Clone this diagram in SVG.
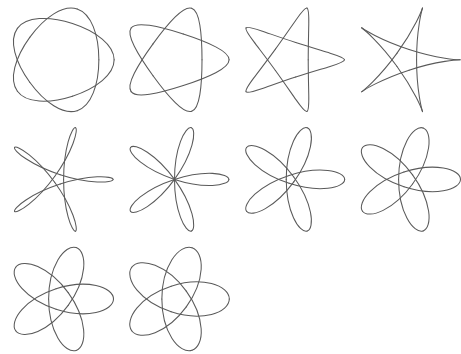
<svg xmlns="http://www.w3.org/2000/svg" xmlns:xlink="http://www.w3.org/1999/xlink" width="461" height="354" viewBox="0 0 461 354">
<style>
.c{fill:none;stroke:#5a5a5a;stroke-width:1.05;vector-effect:non-scaling-stroke;stroke-linecap:round;stroke-linejoin:round}
</style>
<defs>
<path id="p1" class="c" d="M3.5,0C3.5,0.4712 3.2173,0.9429 2.7209,1.3588C2.2245,1.7748 1.5195,2.1349 0.7725,2.3776"/>
<path id="p2" class="c" d="M4,0C4,0.3142 3.6383,0.6307 3.0148,0.9543C2.3914,1.2780 1.5144,1.6109 0.6180,1.9021"/>
<path id="p3" class="c" d="M4.5,0C4.5,0.1571 4.0593,0.3185 3.3087,0.5498C2.5582,0.7812 1.5093,1.0868 0.4635,1.4266"/>
<path id="p4" class="c" d="M5,0C5,0 4.4803,0.0063 3.6026,0.1453C2.7250,0.2843 1.5042,0.5627 0.3090,0.9511"/>
<path id="p5" class="c" d="M5.5,0C5.5,-0.1571 4.9012,-0.3059 3.8965,-0.2592C2.8918,-0.2125 1.4990,0.0387 0.1545,0.4755"/>
<path id="p6" class="c" d="M6,0C6,-0.3142 5.3222,-0.6180 4.1904,-0.6637C3.0586,-0.7094 1.4939,-0.4854 0,0"/>
<path id="p7" class="c" d="M6.5,0C6.5,-0.4712 5.7432,-0.9302 4.4843,-1.0682C3.2254,-1.2062 1.4888,-1.0095 -0.1545,-0.4755"/>
<path id="p8" class="c" d="M7,0C7,-0.6283 6.1642,-1.2424 4.7782,-1.4727C3.3922,-1.7030 1.4837,-1.5335 -0.3090,-0.9511"/>
<path id="p9" class="c" d="M7.5,0C7.5,-0.7854 6.5851,-1.5546 5.0721,-1.8772C3.5590,-2.1999 1.4786,-2.0576 -0.4635,-1.4266"/>
<path id="p10" class="c" d="M8,0C8,-0.9425 7.0061,-1.8668 5.3660,-2.2817C3.7259,-2.6967 1.4735,-2.5817 -0.6180,-1.9021"/>
<g id="h1"><use xlink:href="#p1"/><use xlink:href="#p1" transform="scale(1,-1)"/></g>
<g id="h2"><use xlink:href="#p2"/><use xlink:href="#p2" transform="scale(1,-1)"/></g>
<g id="h3"><use xlink:href="#p3"/><use xlink:href="#p3" transform="scale(1,-1)"/></g>
<g id="h4"><use xlink:href="#p4"/><use xlink:href="#p4" transform="scale(1,-1)"/></g>
<g id="h5"><use xlink:href="#p5"/><use xlink:href="#p5" transform="scale(1,-1)"/></g>
<g id="h6"><use xlink:href="#p6"/><use xlink:href="#p6" transform="scale(1,-1)"/></g>
<g id="h7"><use xlink:href="#p7"/><use xlink:href="#p7" transform="scale(1,-1)"/></g>
<g id="h8"><use xlink:href="#p8"/><use xlink:href="#p8" transform="scale(1,-1)"/></g>
<g id="h9"><use xlink:href="#p9"/><use xlink:href="#p9" transform="scale(1,-1)"/></g>
<g id="h10"><use xlink:href="#p10"/><use xlink:href="#p10" transform="scale(1,-1)"/></g>
</defs>
<rect width="461" height="354" fill="#fff"/>
<g id="curve1" transform="translate(60.66,59.8) scale(15.28)">
<use xlink:href="#h1"/><use xlink:href="#h1" transform="rotate(72)"/><use xlink:href="#h1" transform="rotate(144)"/><use xlink:href="#h1" transform="rotate(216)"/><use xlink:href="#h1" transform="rotate(288)"/>
</g>
<g id="curve2" transform="translate(174.93,59.8) scale(13.54)">
<use xlink:href="#h2"/><use xlink:href="#h2" transform="rotate(72)"/><use xlink:href="#h2" transform="rotate(144)"/><use xlink:href="#h2" transform="rotate(216)"/><use xlink:href="#h2" transform="rotate(288)"/>
</g>
<g id="curve3" transform="translate(290.09,59.8) scale(12.09)">
<use xlink:href="#h3"/><use xlink:href="#h3" transform="rotate(72)"/><use xlink:href="#h3" transform="rotate(144)"/><use xlink:href="#h3" transform="rotate(216)"/><use xlink:href="#h3" transform="rotate(288)"/>
</g>
<g id="curve4" transform="translate(405.68,59.8) scale(10.893)">
<use xlink:href="#h4"/><use xlink:href="#h4" transform="rotate(72)"/><use xlink:href="#h4" transform="rotate(144)"/><use xlink:href="#h4" transform="rotate(216)"/><use xlink:href="#h4" transform="rotate(288)"/>
</g>
<g id="curve5" transform="translate(58.65,179.4) scale(9.896)">
<use xlink:href="#h5"/><use xlink:href="#h5" transform="rotate(72)"/><use xlink:href="#h5" transform="rotate(144)"/><use xlink:href="#h5" transform="rotate(216)"/><use xlink:href="#h5" transform="rotate(288)"/>
</g>
<g id="curve6" transform="translate(174.51,179.4) scale(9.059)">
<use xlink:href="#h6"/><use xlink:href="#h6" transform="rotate(72)"/><use xlink:href="#h6" transform="rotate(144)"/><use xlink:href="#h6" transform="rotate(216)"/><use xlink:href="#h6" transform="rotate(288)"/>
</g>
<g id="curve7" transform="translate(290.41,179.4) scale(8.348)">
<use xlink:href="#h7"/><use xlink:href="#h7" transform="rotate(72)"/><use xlink:href="#h7" transform="rotate(144)"/><use xlink:href="#h7" transform="rotate(216)"/><use xlink:href="#h7" transform="rotate(288)"/>
</g>
<g id="curve8" transform="translate(406.33,179.4) scale(7.737)">
<use xlink:href="#h8"/><use xlink:href="#h8" transform="rotate(72)"/><use xlink:href="#h8" transform="rotate(144)"/><use xlink:href="#h8" transform="rotate(216)"/><use xlink:href="#h8" transform="rotate(288)"/>
</g>
<g id="curve9" transform="translate(59.44,299) scale(7.208)">
<use xlink:href="#h9"/><use xlink:href="#h9" transform="rotate(72)"/><use xlink:href="#h9" transform="rotate(144)"/><use xlink:href="#h9" transform="rotate(216)"/><use xlink:href="#h9" transform="rotate(288)"/>
</g>
<g id="curve10" transform="translate(175.35,299) scale(6.745)">
<use xlink:href="#h10"/><use xlink:href="#h10" transform="rotate(72)"/><use xlink:href="#h10" transform="rotate(144)"/><use xlink:href="#h10" transform="rotate(216)"/><use xlink:href="#h10" transform="rotate(288)"/>
</g>
</svg>
